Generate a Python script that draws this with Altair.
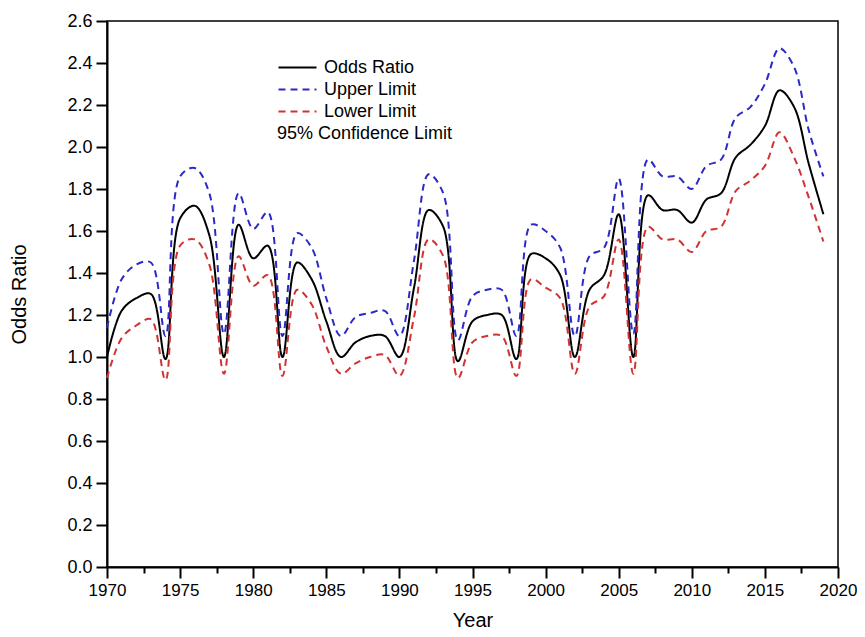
import altair as alt
import pandas as pd

years = list(range(1970, 2020))

odds_ratio = [1.00, 1.22, 1.28, 1.30, 0.99, 1.66, 1.72, 1.58, 1.00, 1.63,
              1.47, 1.53, 1.00, 1.45, 1.37, 1.17, 1.00, 1.07, 1.10, 1.10,
              1.00, 1.33, 1.70, 1.62, 0.98, 1.17, 1.20, 1.20, 0.99, 1.49,
              1.47, 1.39, 1.00, 1.32, 1.39, 1.68, 1.00, 1.77, 1.70, 1.70,
              1.64, 1.75, 1.78, 1.95, 2.01, 2.10, 2.27, 2.19, 1.92, 1.68]

upper_limit = [1.14, 1.37, 1.44, 1.45, 1.10, 1.86, 1.90, 1.78, 1.11, 1.78,
               1.61, 1.69, 1.10, 1.59, 1.52, 1.28, 1.10, 1.19, 1.21, 1.22,
               1.10, 1.46, 1.87, 1.78, 1.08, 1.29, 1.32, 1.32, 1.10, 1.63,
               1.60, 1.52, 1.10, 1.48, 1.52, 1.85, 1.11, 1.94, 1.86, 1.86,
               1.80, 1.91, 1.94, 2.14, 2.19, 2.30, 2.47, 2.38, 2.08, 1.86]

lower_limit = [0.90, 1.09, 1.15, 1.18, 0.89, 1.53, 1.56, 1.44, 0.92, 1.48,
               1.34, 1.39, 0.91, 1.32, 1.25, 1.05, 0.92, 0.97, 1.00, 1.01,
               0.91, 1.19, 1.56, 1.48, 0.90, 1.07, 1.10, 1.10, 0.91, 1.37,
               1.33, 1.28, 0.92, 1.24, 1.29, 1.56, 0.92, 1.62, 1.56, 1.56,
               1.50, 1.60, 1.62, 1.79, 1.84, 1.91, 2.07, 1.95, 1.76, 1.55]

series_names = ["Odds Ratio", "Upper Limit", "Lower Limit"]
series_colors = ["#000000", "#2a2ac8", "#d23232"]
x_ticks = [1970, 1972.5, 1975, 1977.5, 1980, 1982.5, 1985, 1987.5, 1990, 1992.5,
           1995, 1997.5, 2000, 2002.5, 2005, 2007.5, 2010, 2012.5, 2015, 2017.5, 2020]
y_ticks = [0.0, 0.2, 0.4, 0.6, 0.8, 1.0, 1.2, 1.4, 1.6, 1.8, 2.0, 2.2, 2.4, 2.6]

rows = []
for name, vals in zip(series_names, [odds_ratio, upper_limit, lower_limit]):
    for yr, v in zip(years, vals):
        rows.append({"Year": yr, "Value": v, "Series": name})
df = pd.DataFrame(rows)

FONT = "Liberation Sans"

x_scale = alt.Scale(domain=[1970, 2020], nice=False, zero=False)
y_scale = alt.Scale(domain=[0, 2.6], nice=False)

chart = alt.Chart(df).mark_line(interpolate="catmull-rom", strokeWidth=2).encode(
    x=alt.X("Year:Q", scale=x_scale,
            axis=alt.Axis(values=x_ticks, title="Year",
                          labelExpr="datum.value % 5 === 0 ? format(datum.value, 'd') : ''",
                          tickSize={"condition": {"test": "datum.value % 5 === 0", "value": 11},
                                    "value": 6},
                          labelFontSize=17,
                          labelFlush=False, titlePadding=12)),
    y=alt.Y("Value:Q", scale=y_scale,
            axis=alt.Axis(values=y_ticks, format=".1f", title="Odds Ratio",
                          tickSize=11, titlePadding=37)),
    color=alt.Color("Series:N",
                    scale=alt.Scale(domain=series_names, range=series_colors),
                    legend=alt.Legend(
                        title="95% Confidence Limit", titleOrient="bottom",
                        titleAnchor="start", titleFontWeight="normal",
                        titleFontSize=18, titleFont=FONT, titleColor="black",
                        titlePadding=4,
                        orient="none", legendX=170, legendY=36,
                        symbolType="M-2,0L2,0", symbolSize=361, symbolOffset=10,
                        symbolStrokeWidth=2, labelFontSize=18, labelFont=FONT,
                        labelColor="black", labelOffset=16, rowPadding=2,
                        padding=0)),
    strokeDash=alt.StrokeDash("Series:N",
                              scale=alt.Scale(domain=series_names,
                                              range=[[1, 0], [7, 5], [7, 5]]),
                              legend=None),
).properties(
    width=731, height=546,
    autosize=alt.AutoSizeParams(type="none"),
    padding={"left": 99, "top": 13, "right": 19, "bottom": 62},
    background="white",
).configure_axis(
    labelFont=FONT, labelFontSize=18, labelColor="black",
    titleFont=FONT, titleFontSize=20, titleColor="black", titleFontWeight="normal",
    domainColor="black", domainWidth=2, tickColor="black", tickWidth=2,
    grid=False, labelPadding=4,
).configure_view(stroke="black", strokeWidth=1.5)

chart.save("out.html", embed_options={"renderer": "svg", "actions": False})
